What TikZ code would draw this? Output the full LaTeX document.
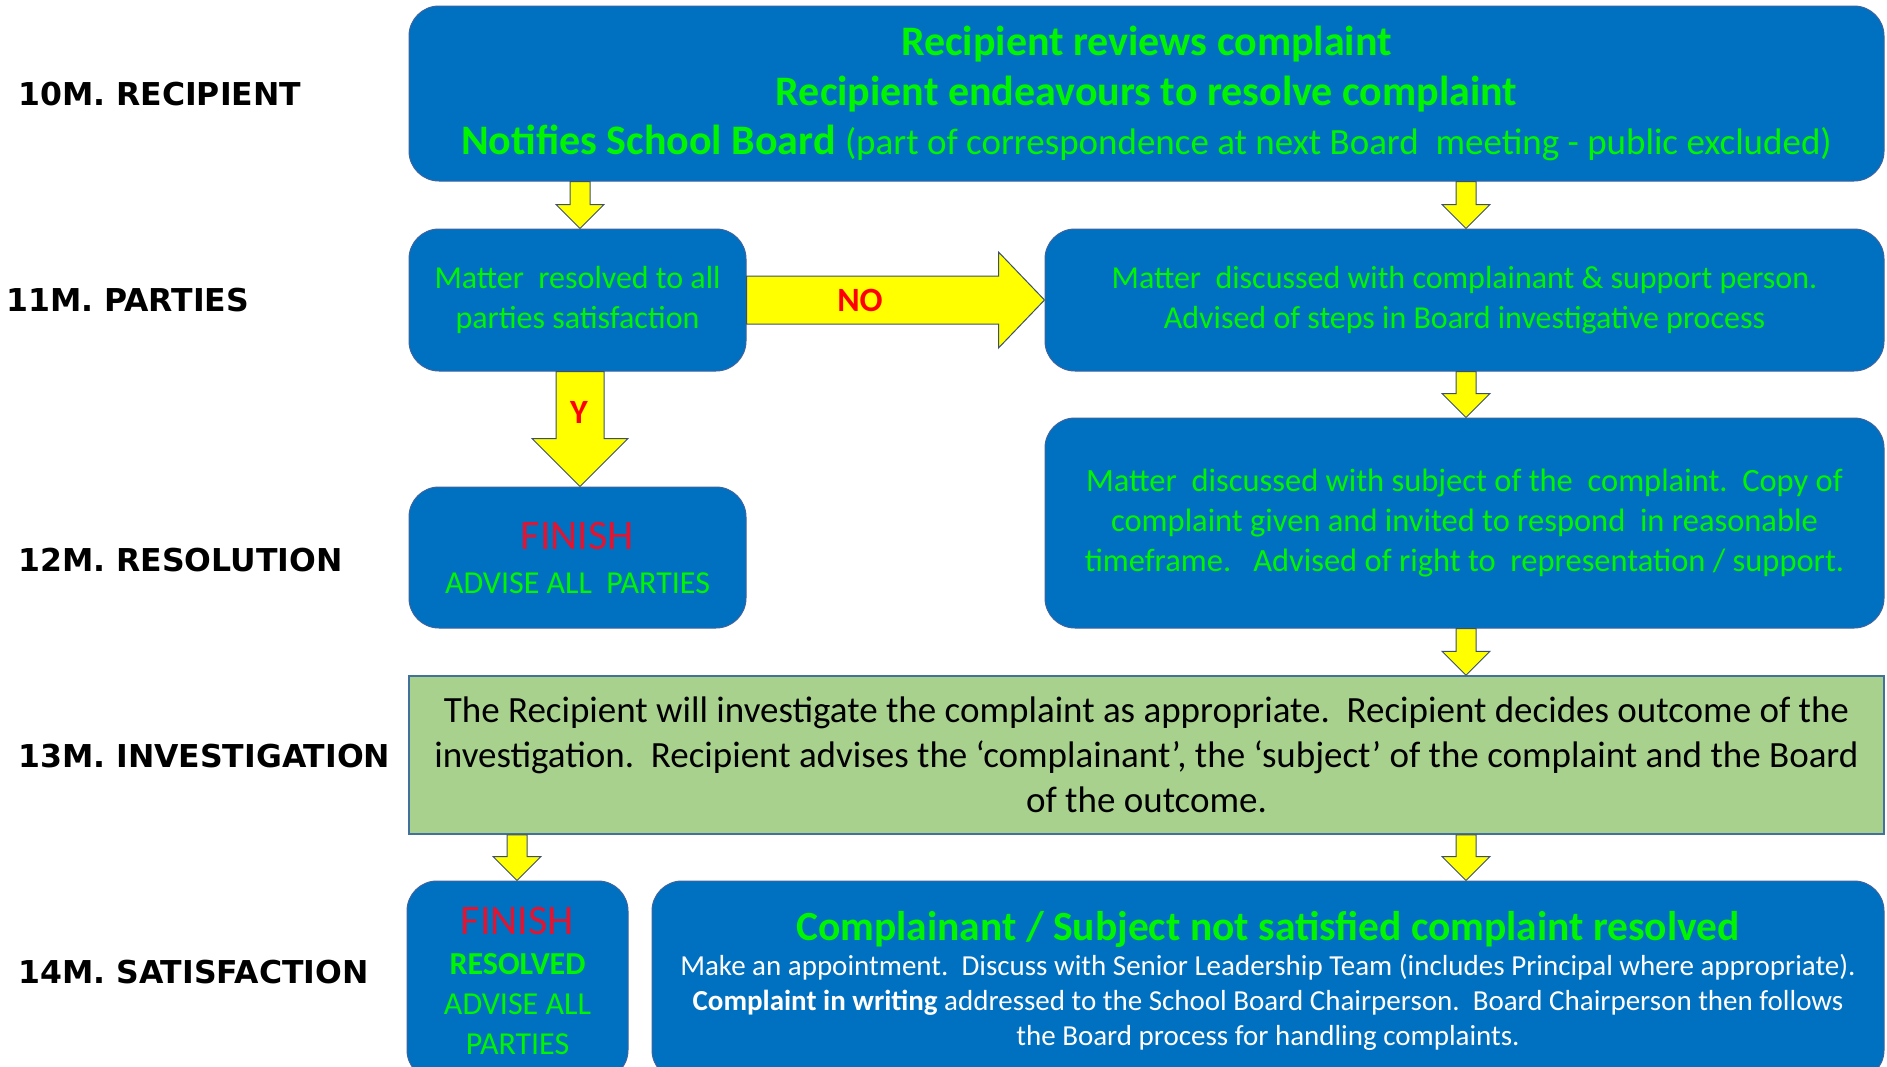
\documentclass[tikz,border=0pt]{standalone}
\usepackage{fontspec}
\setmainfont{Carlito}
\newfontfamily\lblfont{DejaVu Sans}
\usetikzlibrary{calc}
\definecolor{boxblue}{RGB}{0,112,192}
\definecolor{boxedge}{RGB}{60,100,160}
\definecolor{txtgreen}{RGB}{0,245,0}
\definecolor{finred}{RGB}{225,20,50}
\definecolor{invgreen}{RGB}{169,209,142}
\definecolor{invborder}{RGB}{65,113,156}
\definecolor{arrowedge}{RGB}{60,80,110}
\definecolor{arrowyellow}{RGB}{255,255,0}
\newcommand\blkdown[6]{%
  \draw[blockarrow] let \p1=(#2.south), \p2=(#3.north) in
    (#1pt-#4pt,\y1) -- (#1pt+#4pt,\y1) -- (#1pt+#4pt,\y2+#6pt) -- (#1pt+#5pt,\y2+#6pt)
    -- (#1pt,\y2) -- (#1pt-#5pt,\y2+#6pt) -- (#1pt-#4pt,\y2+#6pt) -- cycle;}
\begin{document}
\begin{tikzpicture}[x=1pt,y=-1pt,
  bluebox/.style={rectangle, rounded corners=30pt, fill=boxblue, draw=boxedge, line width=1pt, align=center, inner sep=0pt, text=txtgreen},
  greenbox/.style={rectangle, fill=invgreen, draw=invborder, line width=1.5pt, align=center, inner sep=0pt},
  blockarrow/.style={fill=arrowyellow, draw=arrowedge, line width=1pt, line join=miter},
  stage/.style={anchor=west, font=\lblfont\bfseries\fontsize{31.5}{36}\selectfont, inner sep=0pt},
  lbl/.style={font=\bfseries\fontsize{34}{40}\selectfont, text=red, inner sep=0pt}
]
\useasboundingbox (0,0) rectangle (1887,1066);
\clip (0,0) rectangle (1887,1066);
\fill[white] (0,0) rectangle (1887,1066);

% stage labels
\node[stage] (s10) at (18,94) {10M. RECIPIENT};
\node[stage] (s11) at (6,300) {11M. PARTIES};
\node[stage] (s12) at (18,560) {12M. RESOLUTION};
\node[stage] (s13) at (18,756) {13M. INVESTIGATION};
\node[stage] (s14) at (18,972) {14M. SATISFACTION};

% boxes
\node[bluebox, minimum width=1475, minimum height=175, font=\fontsize{42}{49.5}\selectfont] (T) at (1146.5,93.5)
  {\bfseries Recipient reviews complaint\\
   \bfseries Recipient endeavours to resolve complaint\\
   {\bfseries Notifies School Board} {\fontsize{37}{49.5}\selectfont(part of correspondence at next Board\ \ meeting - public excluded)}};

\node[bluebox, minimum width=337, minimum height=142, font=\fontsize{32}{40}\selectfont] (A) at (577.5,300)
  {Matter\ \ resolved to all\\ parties satisfaction};

\node[bluebox, minimum width=839, minimum height=142, font=\fontsize{32}{40}\selectfont] (B) at (1464.5,300)
  {Matter\ \ discussed with complainant \& support person.\\ Advised of steps in Board investigative process};

\node[bluebox, minimum width=839, minimum height=210, font=\fontsize{32.5}{40}\selectfont] (C) at (1464.5,523)
  {Matter\ \ discussed with subject of the\ \ complaint.\ \ Copy of\\
   complaint given and invited to respond\ \ in reasonable\\
   timeframe.\ \ \ Advised of right to\ \ representation / support.};

\node[bluebox, minimum width=337, minimum height=141, font=\fontsize{32}{44}\selectfont] (D) at (577.5,557.5)
  {{\fontsize{42}{44}\selectfont\color{finred}FINISH}\\ ADVISE ALL\ \ PARTIES};

\node[greenbox, minimum width=1475, minimum height=158, font=\fontsize{37}{45}\selectfont] (E) at (1146.5,755)
  {The Recipient will investigate the complaint as appropriate.\ \ Recipient decides outcome of the\\
   investigation.\ \ Recipient advises the `complainant', the `subject' of the complaint and the Board\\
   of the outcome.};

\node[bluebox, minimum width=221, minimum height=199, font=\fontsize{32}{40}\selectfont] (F) at (517.5,980.5)
  {{\fontsize{42}{40}\selectfont\color{finred}FINISH}\\ {\bfseries RESOLVED}\\ ADVISE ALL\\ PARTIES};

\node[bluebox, minimum width=1232, minimum height=199, text=white, font=\fontsize{29}{35}\selectfont] (G) at (1268,980.5)
  {{\fontsize{41.5}{42}\selectfont\bfseries\color{txtgreen}Complainant / Subject not satisfied complaint resolved}\\
   Make an appointment.\ \ Discuss with Senior Leadership Team (includes Principal where appropriate).\\
   {\bfseries Complaint in writing} addressed to the School Board Chairperson.\ \ Board Chairperson then follows\\
   the Board process for handling complaints.};

% small connectors
\blkdown{580}{T}{A}{10}{24}{24}
\blkdown{1466}{T}{B}{10}{24}{24}
\blkdown{1466}{B}{C}{10}{24}{24}
\blkdown{1466}{C}{E}{10}{24}{24}
\blkdown{517}{E}{F}{10}{24}{24}
\blkdown{1466}{E}{G}{10}{24}{24}

% Y arrow
\blkdown{580}{A}{D}{24}{48}{48}
\node[lbl] (ylbl) at (579,412) {Y};

% NO arrow
\draw[blockarrow] let \p1=(A.east), \p2=(B.west) in
  (\x1,\y1+24pt) -- (\x2-46pt,\y1+24pt) -- (\x2-46pt,\y1+48pt) -- (\x2,\y1)
  -- (\x2-46pt,\y1-48pt) -- (\x2-46pt,\y1-24pt) -- (\x1,\y1-24pt) -- cycle;
\node[lbl] (nolbl) at (860,300) {NO};
\end{tikzpicture}
\end{document}
